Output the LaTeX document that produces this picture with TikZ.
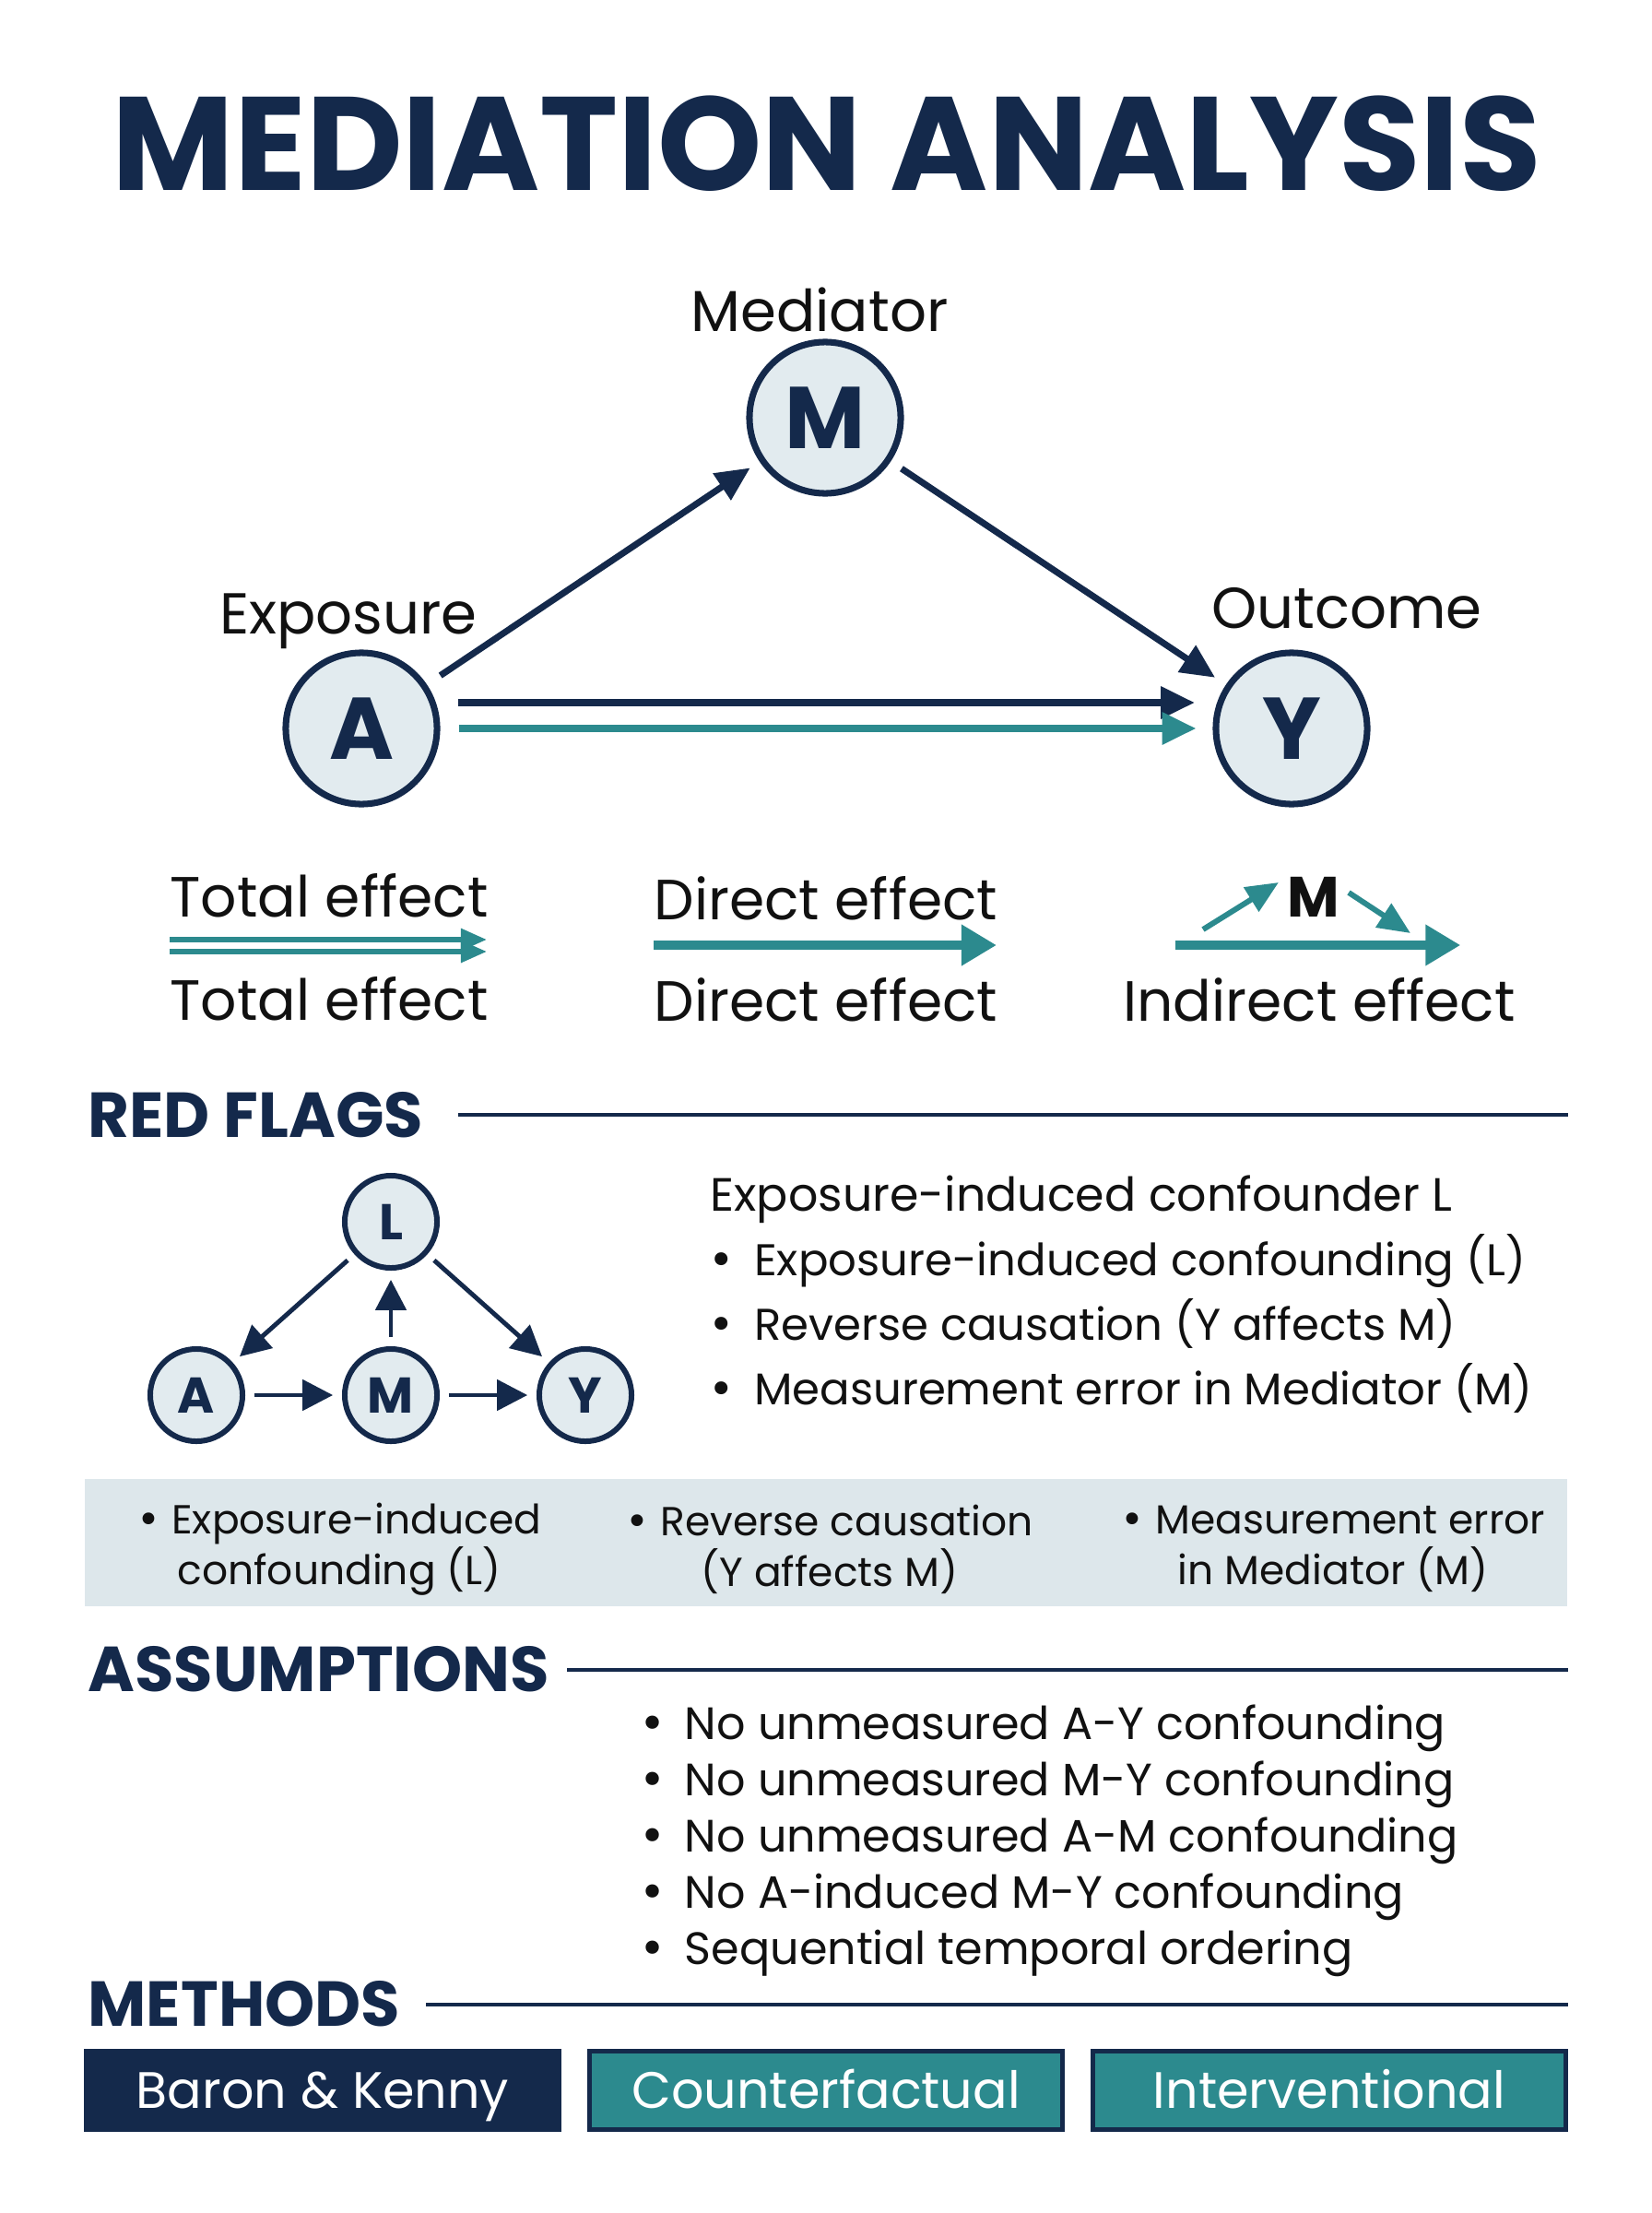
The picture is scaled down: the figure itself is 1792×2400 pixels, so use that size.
\documentclass[tikz,border=0pt]{standalone}
\usepackage{fontspec}
\setmainfont{Poppins}
\newfontfamily\bulfont{DejaVu Sans}
\newcommand{\bul}{{\bulfont\textbullet}}
\usetikzlibrary{calc,arrows.meta}

\definecolor{navy}{HTML}{14294B}
\definecolor{tealc}{HTML}{2C8A8E}
\definecolor{circfill}{HTML}{E2EBEF}
\definecolor{bandfill}{HTML}{DDE7EB}
\definecolor{ink}{HTML}{111111}

\begin{document}
\begin{tikzpicture}[x=0.01cm,y=-0.01cm,
  bigvar/.style={circle,draw=navy,line width=2pt,fill=circfill,minimum size=1.64cm,inner sep=0pt,
    text=navy,font=\fontsize{27}{27}\selectfont\bfseries},
  smallvar/.style={circle,draw=navy,line width=1.7pt,fill=circfill,minimum size=1.0cm,inner sep=0pt,
    text=navy,font=\fontsize{15.5}{15.5}\selectfont\bfseries},
  lbl/.style={anchor=base,inner sep=0pt,text=ink,font=\fontsize{17.8}{17.8}\selectfont},
  legtxt/.style={anchor=base,inner sep=0pt,text=ink,font=\fontsize{17.5}{17.5}\selectfont},
  head/.style={anchor=base west,inner sep=0pt,text=navy,font=\fontsize{19.6}{19.6}\selectfont\bfseries},
  rftxt/.style={anchor=base west,inner sep=0pt,text=ink,font=\fontsize{13.7}{13.7}\selectfont},
  astxt/.style={anchor=base west,inner sep=0pt,text=ink,font=\fontsize{14}{14}\selectfont},
  bandtxt/.style={align=center,inner sep=0pt,text=ink,font=\fontsize{12.5}{15.6}\selectfont},
  mbox/.style={minimum height=0.9cm,inner sep=0pt,text=white,text height=11pt,text depth=0pt,
    font=\fontsize{15.8}{15.8}\selectfont},
  rule/.style={draw=navy,line width=1.4pt},
  navyarr/.style={draw=navy,line width=2pt,-{Triangle[length=10.5pt,width=9.5pt]}},
  tealarr/.style={draw=tealc,line width=2.3pt,-{Triangle[length=10.5pt,width=9.5pt]}},
  legarr/.style={draw=tealc,line width=2.8pt,-{Triangle[length=10.8pt,width=12pt]}},
  thinarr/.style={draw=tealc,line width=1.7pt,-{Triangle[length=8pt,width=6.5pt]}},
  minarr/.style={draw=tealc,line width=1.7pt,-{Triangle[length=10pt,width=8.5pt]}},
  dagarr/.style={draw=navy,line width=1.4pt,-{Triangle[length=9.4pt,width=9.4pt]},shorten <=2.8pt,shorten >=2.8pt}]

  \fill[white] (0,0) rectangle (1792,2400);
  \useasboundingbox (0,0) rectangle (1792,2400);

  \node[anchor=base,inner sep=0pt,text=navy,font=\fontsize{41}{41}\selectfont\bfseries] (ttl) at (897,206) {MEDIATION ANALYSIS};

  % main triangle
  \node[bigvar] (A) at (392,790) {A};
  \node[bigvar] (M) at (895,453) {M};
  \node[bigvar] (Y) at (1401,790) {Y};

  \node[lbl] (lA) at ($(A)+(-14,-103)$) {Exposure};
  \node[lbl] (lM) at ($(M)+(-6,-94)$) {Mediator};
  \node[lbl] (lY) at ($(Y)+(60,-109)$) {Outcome};

  \draw[navyarr,shorten <=5pt,shorten >=3.5pt] (A) -- (M);
  \draw[navyarr,shorten <=4pt,shorten >=4pt] (M) -- (Y);
  \draw[navyarr,line width=2.3pt] ($(A)+(105,-28)$) -- ($(Y)+(-105,-28)$);
  \draw[tealarr,shorten <=5.7pt,shorten >=5.1pt] (A) -- (Y);

  % legend
  \node[legtxt] (totA) at (357,994) {Total effect};
  \node[legtxt] (totB) at (357,1106) {Total effect};
  \draw[thinarr] ($(totA.base west)+(0,25)$) -- ($(totA.base east)+(-2,25)$);
  \draw[thinarr] ($(totA.base west)+(0,38)$) -- ($(totA.base east)+(-2,38)$);

  \node[legtxt] (dirA) at (896,997) {Direct effect};
  \node[legtxt] (dirB) at (896,1107) {Direct effect};
  \draw[legarr] ($(dirA.base west)+(0,28)$) -- ($(dirA.base east)+(-2,28)$);

  \node[legtxt,font=\fontsize{17.5}{17.5}\selectfont\bfseries] (indM) at (1425,994) {M};
  \node[legtxt] (indB) at (1431,1107) {Indirect effect};
  \draw[legarr] ($(indB.base west)+(57,-82)$) -- ($(indB.base east)+(-60,-82)$);
  \draw[minarr] ($(indM.base)+(-120,14)$) -- ($(indM.base)+(-38,-37)$);
  \draw[minarr] ($(indM.base)+(38,-26)$) -- ($(indM.base)+(105,18)$);

  % red flags
  \node[head] (hRF) at (95,1233) {RED FLAGS};
  \draw[rule] (497,1209) -- (1701,1209);

  \node[smallvar] (sL) at (424,1325) {L};
  \node[smallvar] (sA) at (213,1513) {A};
  \node[smallvar] (sM) at (424,1513) {M};
  \node[smallvar] (sY) at (635,1513) {Y};
  \draw[dagarr] (sL) -- (sA);
  \draw[dagarr] (sL) -- (sY);
  \draw[dagarr] (sM) -- (sL);
  \draw[dagarr] (sA) -- (sM);
  \draw[dagarr] (sM) -- (sY);

  \node[rftxt,font=\fontsize{14.4}{14.4}\selectfont] (rf0) at (770,1313) {Exposure-induced confounder L};
  \node[rftxt] (rf1) at (768,1383) {\bul\hspace{6pt}Exposure-induced confounding (L)};
  \node[rftxt] (rf2) at (768,1453) {\bul\hspace{6pt}Reverse causation (Y affects M)};
  \node[rftxt] (rf3) at (768,1523) {\bul\hspace{6pt}Measurement error in Mediator (M)};

  \fill[bandfill] (92,1604) rectangle (1700,1742);
  \node[bandtxt] (b1) at (368,1680) {\bul\ Exposure-induced\\confounding (L)};
  \node[bandtxt] (b2) at (900,1680) {\bul\ Reverse causation\\(Y affects M)};
  \node[bandtxt] (b3) at (1446,1680) {\bul\ Measurement error\\in Mediator (M)};

  % assumptions
  \node[head] (hAS) at (95,1834) {ASSUMPTIONS};
  \draw[rule] (615,1811) -- (1701,1811);

  \node[astxt] (as1) at (693,1886) {\bul\hspace{5.7pt}No unmeasured A-Y confounding};
  \node[astxt] (as2) at (693,1947) {\bul\hspace{5.7pt}No unmeasured M-Y confounding};
  \node[astxt] (as3) at (693,2008) {\bul\hspace{5.7pt}No unmeasured A-M confounding};
  \node[astxt] (as4) at (693,2069) {\bul\hspace{5.7pt}No A-induced M-Y confounding};
  \node[astxt] (as5) at (693,2130) {\bul\hspace{5.7pt}Sequential temporal ordering};

  % methods
  \node[head] (hME) at (95,2197) {METHODS};
  \draw[rule] (462,2174) -- (1701,2174);

  \node[mbox,fill=navy,minimum width=5.18cm] (m1) at (350,2267) {Baron \& Kenny};
  \node[mbox,fill=tealc,draw=navy,line width=1.4pt,minimum width=5.13cm,minimum height=0.85cm] (m2) at (896,2267) {Counterfactual};
  \node[mbox,fill=tealc,draw=navy,line width=1.4pt,minimum width=5.13cm,minimum height=0.85cm] (m3) at (1442,2267) {Interventional};
\end{tikzpicture}
\end{document}
